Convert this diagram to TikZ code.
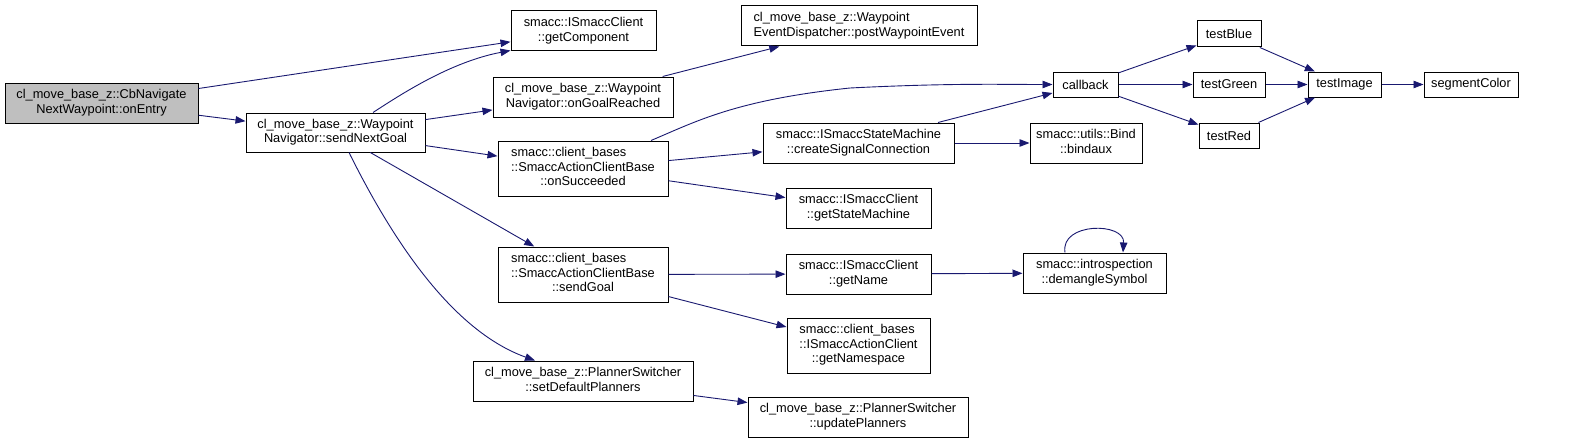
\documentclass[tikz,border=0pt]{standalone}
\usepackage{fontspec}
\setmainfont{Liberation Sans}
\usetikzlibrary{arrows.meta,calc}
\definecolor{edgec}{HTML}{191970}
\definecolor{grayfill}{HTML}{BFBFBF}
\newcommand\twoln[2]{\begin{tabular}{@{}l@{}}#1\\\multicolumn{1}{@{}c@{}}{#2}\end{tabular}}
\newcommand\bx[7][]{\node[box,#1,minimum width=#5pt-#3pt,minimum height=#6pt-#4pt] (#2) at ({(#3+#5)/2},{(#4+#6)/2}) {#7};}
\tikzset{
  box/.style={draw=black, fill=white, line width=1pt, inner sep=0pt, text=black,
    font=\fontsize{12.8}{14.5}\selectfont},
  edg/.style={draw=edgec, line width=0.9pt, -{Triangle[length=10pt,width=7.5pt]}}
}
\begin{document}
\begin{tikzpicture}[x=1pt,y=-1pt]
\useasboundingbox (0,0) rectangle (1576,444);
\bx[fill=grayfill]{onEntry}{5}{83}{198}{123}{\twoln{cl\_move\_base\_z::CbNavigate}{NextWaypoint::onEntry}}
\bx{sendNextGoal}{246}{113}{425}{152}{\twoln{cl\_move\_base\_z::Waypoint}{Navigator::sendNextGoal}}
\bx{getComponent}{511}{11}{656}{51}{\twoln{smacc::ISmaccClient}{::getComponent}}
\bx{onGoalReached}{493}{77}{673}{117}{\twoln{cl\_move\_base\_z::Waypoint}{Navigator::onGoalReached}}
\bx{postWaypointEvent}{741}{6}{977}{46}{\twoln{cl\_move\_base\_z::Waypoint}{EventDispatcher::postWaypointEvent}}
\bx{onSucceeded}{498}{141}{668}{196}{\twoln{smacc::client\_bases\\::SmaccActionClientBase}{::onSucceeded}}
\bx{sendGoal}{498}{247}{668}{302}{\twoln{smacc::client\_bases\\::SmaccActionClientBase}{::sendGoal}}
\bx{setDefaultPlanners}{473}{361}{693}{401}{\twoln{cl\_move\_base\_z::PlannerSwitcher}{::setDefaultPlanners}}
\bx{createSignal}{763}{123}{954}{163}{\twoln{smacc::ISmaccStateMachine}{::createSignalConnection}}
\bx{getStateMachine}{786}{188}{931}{228}{\twoln{smacc::ISmaccClient}{::getStateMachine}}
\bx{getName}{786}{254}{931}{294}{\twoln{smacc::ISmaccClient}{::getName}}
\bx{getNamespace}{787}{318}{930}{373}{\twoln{smacc::client\_bases\\::ISmaccActionClient}{::getNamespace}}
\bx{updatePlanners}{748}{397}{968}{437}{\twoln{cl\_move\_base\_z::PlannerSwitcher}{::updatePlanners}}
\bx{callback}{1053}{72}{1118}{97}{callback}
\bx{bindaux}{1030}{123}{1142}{163}{\twoln{smacc::utils::Bind}{::bindaux}}
\bx{demangle}{1023}{253}{1166}{293}{\twoln{smacc::introspection}{::demangleSymbol}}
\bx{testBlue}{1197}{21}{1261}{47}{testBlue}
\bx{testGreen}{1193}{72}{1265}{97}{testGreen}
\bx{testRed}{1199}{123}{1259}{148}{testRed}
\bx{testImage}{1308}{72}{1381}{97}{testImage}
\bx{segmentColor}{1424}{72}{1518}{97}{segmentColor}

\draw[edg] (onEntry) -- (getComponent);
\draw[edg] (onEntry) -- (sendNextGoal);
\draw[edg] ([xshift=37.5pt]sendNextGoal.north) .. controls (400,95) and (450,62) .. ([yshift=1pt]getComponent.south west);
\draw[edg] (sendNextGoal) -- (onGoalReached);
\draw[edg] (sendNextGoal) -- (onSucceeded);
\draw[edg] (sendNextGoal) -- (sendGoal);
\draw[edg] ([xshift=13.5pt]sendNextGoal.south) .. controls (390,235) and (450,330) .. ([xshift=-48pt]setDefaultPlanners.north);
\draw[edg] (onGoalReached) -- (postWaypointEvent);
\draw[edg] ([xshift=68pt]onSucceeded.north) .. controls (695,122) and (735,100) .. (850,88) .. controls (950,83) and (1000,84.5) .. (callback.west);
\draw[edg] (onSucceeded) -- (createSignal);
\draw[edg] (onSucceeded) -- (getStateMachine);
\draw[edg] (sendGoal) -- (getName);
\draw[edg] (sendGoal) -- (getNamespace);
\draw[edg] (setDefaultPlanners) -- (updatePlanners);
\draw[edg] (createSignal) -- (callback);
\draw[edg] (createSignal) -- (bindaux);
\draw[edg] (callback) -- (testBlue);
\draw[edg] (callback) -- (testGreen);
\draw[edg] (callback) -- (testRed);
\draw[edg] (testBlue) -- (testImage);
\draw[edg] (testGreen) -- (testImage);
\draw[edg] (testRed) -- (testImage);
\draw[edg] (testImage) -- (segmentColor);
\draw[edg] (getName) -- (demangle);
\draw[edg] ([xshift=-29.5pt]demangle.north) .. controls (1060,222) and (1125,222) .. ([xshift=28.5pt]demangle.north);
\end{tikzpicture}
\end{document}
